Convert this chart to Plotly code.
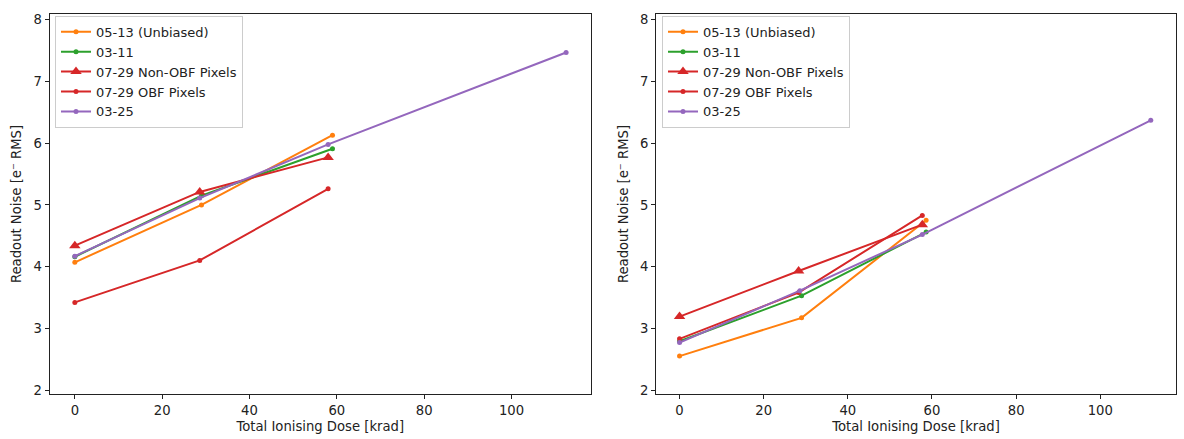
import plotly.graph_objects as go

# ---------------- data ----------------
series_names = ["05-13 (Unbiased)", "03-11", "07-29 Non-OBF Pixels", "07-29 OBF Pixels", "03-25"]

# Left panel
left_x = {
    "05-13 (Unbiased)": [0, 29, 59],
    "03-11": [0, 29, 59],
    "07-29 Non-OBF Pixels": [0, 28.6, 58],
    "07-29 OBF Pixels": [0, 28.6, 58],
    "03-25": [0, 28.6, 58, 112.5],
}
left_y = {
    "05-13 (Unbiased)": [4.07, 5.00, 6.13],
    "03-11": [4.16, 5.15, 5.91],
    "07-29 Non-OBF Pixels": [4.34, 5.21, 5.77],
    "07-29 OBF Pixels": [3.42, 4.10, 5.26],
    "03-25": [4.17, 5.11, 5.98, 7.47],
}

# Right panel
right_x = {
    "05-13 (Unbiased)": [0, 29, 58.6],
    "03-11": [0, 29, 58.6],
    "07-29 Non-OBF Pixels": [0, 28.3, 57.7],
    "07-29 OBF Pixels": [0, 28.3, 57.7],
    "03-25": [0, 28.6, 57.7, 112],
}
right_y = {
    "05-13 (Unbiased)": [2.55, 3.17, 4.75],
    "03-11": [2.79, 3.53, 4.56],
    "07-29 Non-OBF Pixels": [3.19, 3.93, 4.68],
    "07-29 OBF Pixels": [2.83, 3.58, 4.83],
    "03-25": [2.77, 3.61, 4.52, 6.37],
}

x_ticks = [0, 20, 40, 60, 80, 100]
y_ticks = [2, 3, 4, 5, 6, 7, 8]

# ---------------- style ----------------
colors = {
    "05-13 (Unbiased)": "#ff7f0e",
    "03-11": "#2ca02c",
    "07-29 Non-OBF Pixels": "#d62728",
    "07-29 OBF Pixels": "#d62728",
    "03-25": "#9467bd",
}
symbols = {
    "05-13 (Unbiased)": "circle",
    "03-11": "circle",
    "07-29 Non-OBF Pixels": "triangle-up",
    "07-29 OBF Pixels": "circle",
    "03-25": "circle",
}
sizes = {
    "05-13 (Unbiased)": 5,
    "03-11": 5,
    "07-29 Non-OBF Pixels": 10,
    "07-29 OBF Pixels": 5,
    "03-25": 5,
}

FONT = "DejaVu Sans"
FS = 13.2
W, H = 1184, 439

fig = go.Figure()

for xs, ys, xa, ya, leg in [
    (left_x, left_y, "x", "y", "legend"),
    (right_x, right_y, "x2", "y2", "legend2"),
]:
    for name in series_names:
        fig.add_trace(go.Scatter(
            x=xs[name], y=ys[name], name=name,
            mode="lines+markers",
            line=dict(color=colors[name], width=2),
            marker=dict(color=colors[name], symbol=symbols[name], size=sizes[name]),
            xaxis=xa, yaxis=ya, legend=leg,
        ))

def px_x(p):
    return p / W

def px_y(p):
    return 1 - p / H

axis_common = dict(
    showline=True, linecolor="#222", linewidth=1, mirror=True,
    ticks="outside", ticklen=4, tickcolor="#222", tickwidth=1,
    showgrid=False, zeroline=False,
    tickfont=dict(family=FONT, size=FS, color="#222"),
    title_font=dict(family=FONT, size=FS, color="#222"),
)

legend_common = dict(
    xanchor="left", yanchor="top",
    bgcolor="rgba(255,255,255,0.8)", bordercolor="#cccccc", borderwidth=1,
    font=dict(family=FONT, size=13, color="#222"), tracegroupgap=0,
    itemwidth=30,
)

Y_TITLE = "Readout Noise [e\u207b RMS]"
X_TITLE = "Total Ionising Dose [krad]"

fig.update_layout(
    width=W, height=H,
    margin=dict(l=0, r=0, t=0, b=0),
    plot_bgcolor="white", paper_bgcolor="white",
    font=dict(family=FONT, size=FS, color="#222"),
    xaxis=dict(domain=[px_x(49.5), px_x(591)], range=[-5.8, 118.2], tickvals=x_ticks,
               title=dict(text=X_TITLE, standoff=4), anchor="y", **axis_common),
    yaxis=dict(domain=[px_y(397), px_y(12.7)], range=[1.93, 8.1], tickvals=y_ticks,
               title=dict(text=Y_TITLE, standoff=8), anchor="x", **axis_common),
    xaxis2=dict(domain=[px_x(656), px_x(1176)], range=[-5.6, 118.0], tickvals=x_ticks,
                title=dict(text=X_TITLE, standoff=4), anchor="y2", **axis_common),
    yaxis2=dict(domain=[px_y(397), px_y(12.7)], range=[1.93, 8.1], tickvals=y_ticks,
                title=dict(text=Y_TITLE, standoff=8), anchor="x2", **axis_common),
    legend=dict(x=px_x(55), y=px_y(15), **legend_common),
    legend2=dict(x=px_x(662), y=px_y(15), **legend_common),
)

fig.write_html(
    "out.html",
    config={"displayModeBar": False},
    post_script="document.body.style.margin='0';document.body.style.overflow='hidden';",
)
